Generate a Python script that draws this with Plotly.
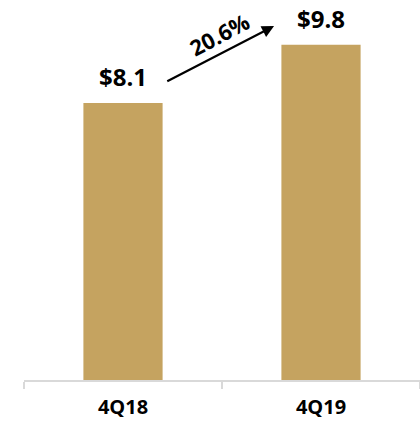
import plotly.graph_objects as go

# Quarterly values
quarters = ["4Q18", "4Q19"]
values = [8.1, 9.8]
value_labels = ["$8.1", "$9.8"]
growth_label = "20.6%"

BAR_COLOR = "#C5A360"
FONT = "'Open Sans', Lato, sans-serif"

fig = go.Figure(
    go.Bar(
        x=quarters,
        y=values,
        marker=dict(color=BAR_COLOR, line=dict(width=0)),
        width=0.4,
        hoverinfo="skip",
    )
)

# Value labels above each bar
for q, v, lab in zip(quarters, values, value_labels):
    fig.add_annotation(
        x=q, y=v, text=f"<b>{lab}</b>", showarrow=False,
        yanchor="middle", yshift=26,
        font=dict(family=FONT, size=24, color="#000000"),
    )

# Growth arrow between the two bars
fig.add_annotation(
    x=0.763, y=10.35, ax=0.216, ay=8.71,
    xref="x", yref="y", axref="x", ayref="y",
    showarrow=True, arrowhead=2, arrowsize=1.1, arrowwidth=2.2,
    arrowcolor="#000000", text="",
)
fig.add_annotation(
    x=0.487, y=10.13, xref="x", yref="y",
    text=f"<b>{growth_label}</b>", showarrow=False, textangle=-28,
    font=dict(family=FONT, size=22, color="#000000"),
)

fig.update_layout(
    width=420, height=425,
    margin=dict(l=24, r=0, t=0, b=45),
    paper_bgcolor="white", plot_bgcolor="white",
    showlegend=False,
    xaxis=dict(
        type="category", range=[-0.5, 1.5],
        showline=True, linecolor="#D9D9D9", linewidth=1.5,
        ticks="outside", tickson="boundaries", ticklen=7,
        tickcolor="#D9D9D9", tickwidth=1.5,
        showgrid=False, zeroline=False,
        tickfont=dict(family=FONT, size=20, color="#000000"),
        ticklabelstandoff=8,
        tickvals=quarters, ticktext=[f"<b>{q}</b>" for q in quarters],
    ),
    yaxis=dict(range=[0, 11.11], visible=False, showgrid=False, zeroline=False),
)

fig.write_html("out.html")
